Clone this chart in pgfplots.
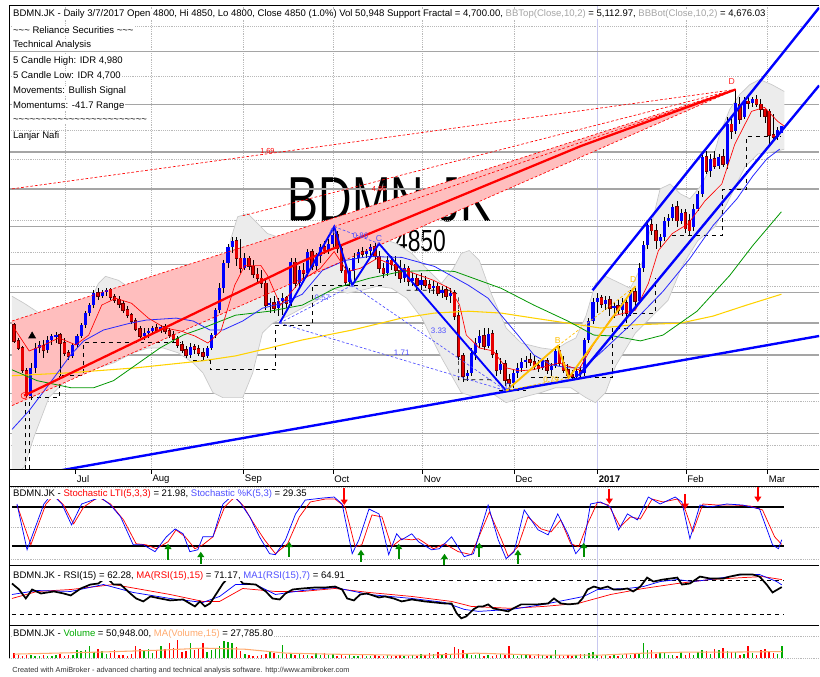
\documentclass[border=0pt]{standalone}
\usepackage{fontspec}
\setmainfont{Liberation Sans}
\usepackage{graphicx}
\usepackage{pgfplots}
\pgfplotsset{compat=1.18}
\usepackage{pgfplotstable}
\usetikzlibrary{arrows.meta}

\definecolor{cblue}{RGB}{0,0,255}
\definecolor{cred}{RGB}{230,0,0}
\definecolor{pinkfill}{RGB}{255,190,190}
\definecolor{bbfill}{RGB}{236,236,236}
\definecolor{bbedge}{RGB}{200,200,200}
\definecolor{gridsolid}{RGB}{165,165,165}
\definecolor{griddot}{RGB}{185,185,185}
\definecolor{yellowma}{RGB}{255,210,0}
\definecolor{greenma}{RGB}{0,150,0}
\definecolor{bluema}{RGB}{40,40,255}
\definecolor{abcdyel}{RGB}{255,190,0}
\definecolor{lblblue}{RGB}{80,80,255}
\definecolor{vgreen}{RGB}{0,170,0}
\definecolor{vorange}{RGB}{255,170,110}
\definecolor{arrowgreen}{RGB}{0,140,0}
\definecolor{yearline}{RGB}{200,200,240}
\definecolor{ltgray}{RGB}{165,165,165}

\pgfplotstableread{
i o h l c v
0 3348 3362 3212 3228 21000
1 3228 3250 3160 3175 13000
2 3175 3190 2988 3010 8500
3 3002 3025 2800 2822 13000
4 2815 3062 2785 3025 13000
5 3025 3212 2988 3175 8500
6 3175 3228 3138 3198 8500
7 3190 3235 3100 3160 13000
8 3160 3265 3138 3235 8500
9 3235 3280 3198 3265 8500
10 3265 3295 3212 3272 13000
11 3272 3288 2965 3212 17000
12 3212 3250 3115 3138 8500
13 3138 3160 3085 3115 13000
14 3115 3212 3100 3198 13000
15 3198 3280 3175 3265 34000
16 3265 3362 3250 3348 30000
17 3348 3452 3325 3438 34000
18 3438 3512 3415 3498 51000
19 3498 3610 3475 3588 25500
20 3588 3625 3535 3565 38000
21 3565 3610 3550 3595 30000
22 3595 3625 3565 3610 17000
23 3610 3625 3535 3558 21000
24 3558 3580 3512 3535 34000
25 3535 3565 3475 3505 13000
26 3505 3528 3438 3460 13000
27 3460 3490 3400 3422 8500
28 3422 3438 3355 3378 17000
29 3378 3400 3302 3318 51000
30 3318 3340 3250 3265 38000
31 3265 3325 3235 3288 34000
32 3288 3325 3250 3302 38000
33 3302 3340 3272 3325 21000
34 3325 3355 3295 3310 34000
35 3310 3348 3288 3332 51000
36 3332 3355 3280 3302 38000
37 3302 3325 3250 3272 64000
38 3272 3302 3220 3242 42500
39 3242 3265 3175 3198 76500
40 3198 3228 3138 3160 25500
41 3160 3190 3100 3122 30000
42 3122 3212 3100 3182 64000
43 3182 3205 3130 3168 34000
44 3168 3198 3115 3138 38000
45 3138 3175 3085 3115 64000
46 3115 3190 3100 3175 25500
47 3175 3288 3160 3272 34000
48 3272 3475 3250 3460 42500
49 3460 3662 3438 3625 51000
50 3625 3835 3588 3812 72000
51 3812 3962 3775 3940 68000
52 3940 4015 3888 3985 64000
53 3985 4015 3790 3850 47000
54 3850 4000 3738 3775 30000
55 3775 3888 3760 3850 17000
56 3850 3865 3760 3790 13000
57 3790 3835 3700 3730 8500
58 3730 3775 3670 3700 8500
59 3700 3760 3625 3662 13000
60 3662 3700 3460 3498 17000
61 3498 3550 3438 3512 30000
62 3512 3565 3438 3475 21000
63 3475 3550 3415 3528 13000
64 3528 3588 3422 3550 55000
65 3550 3565 3475 3512 17000
66 3512 3850 3490 3820 17000
67 3820 3850 3625 3662 13000
68 3662 3790 3625 3760 17000
69 3760 3812 3685 3738 13000
70 3738 3925 3715 3902 13000
71 3902 3925 3760 3790 8500
72 3790 3888 3760 3865 21000
73 3865 3962 3812 3940 13000
74 3940 3978 3880 3910 21000
75 3910 4000 3880 3962 13000
76 3962 4090 3925 4030 17000
77 4030 4060 3888 3925 8500
78 3925 3962 3738 3760 13000
79 3760 3790 3640 3670 8500
80 3670 3775 3640 3752 13000
81 3752 3888 3662 3850 8500
82 3850 3925 3812 3902 8500
83 3902 3940 3850 3880 13000
84 3880 3925 3850 3910 8500
85 3910 3962 3872 3940 8500
86 3940 3970 3835 3865 13000
87 3865 3910 3738 3775 8500
88 3775 3812 3700 3738 8500
89 3738 3865 3715 3835 13000
90 3835 3865 3760 3805 8500
91 3805 3865 3715 3760 8500
92 3760 3835 3662 3700 13000
93 3700 3805 3670 3775 8500
94 3775 3790 3640 3678 8500
95 3678 3738 3640 3700 13000
96 3700 3730 3610 3648 8500
97 3648 3738 3610 3685 17000
98 3685 3715 3625 3648 13000
99 3648 3685 3588 3625 21000
100 3625 3678 3580 3640 17000
101 3640 3662 3565 3588 25500
102 3588 3640 3550 3610 13000
103 3610 3640 3535 3565 21000
104 3565 3625 3512 3588 17000
105 3588 3610 3385 3415 47000
106 3415 3460 3085 3115 38000
107 3115 3138 2920 2965 34000
108 2965 3010 2928 2988 17000
109 2988 3175 2965 3138 13000
110 3138 3250 3085 3212 13000
111 3212 3310 3175 3265 17000
112 3265 3325 3160 3190 8500
113 3190 3325 3175 3280 13000
114 3280 3310 3100 3130 8500
115 3130 3160 2965 3010 13000
116 3010 3100 2980 3055 17000
117 3055 3085 2890 2935 13000
118 2935 2980 2860 2912 51000
119 2912 3010 2875 2988 13000
120 2988 3062 2950 3025 8500
121 3025 3100 2995 3070 17000
122 3070 3115 3025 3085 13000
123 3085 3138 3040 3070 13000
124 3070 3115 3010 3040 8500
125 3040 3085 2995 3025 17000
126 3025 3100 3010 3078 13000
127 3078 3100 2980 3010 8500
128 3010 3062 2965 3040 13000
129 3040 3175 3025 3152 34000
130 3152 3190 3040 3062 13000
131 3062 3115 2988 3010 8500
132 3010 3055 2950 2972 13000
133 2972 3010 2935 2958 8500
134 2958 3025 2935 3002 13000
135 3002 3040 2950 2988 17000
136 2988 3250 2965 3235 17000
137 3235 3400 3212 3378 21000
138 3378 3550 3355 3520 25500
139 3520 3588 3438 3550 13000
140 3550 3572 3475 3505 8500
141 3505 3565 3460 3535 13000
142 3535 3565 3415 3475 8500
143 3475 3520 3400 3490 13000
144 3490 3535 3430 3460 8500
145 3460 3550 3415 3512 13000
146 3512 3550 3362 3438 17000
147 3438 3610 3415 3595 13000
148 3595 3625 3490 3528 21000
149 3528 3812 3505 3775 21000
150 3775 3985 3745 3955 64000
151 3955 4135 3925 4105 34000
152 4105 4150 4030 4060 34000
153 4060 4112 3925 3985 17000
154 3985 4038 3940 4015 25500
155 4015 4165 3985 4135 21000
156 4135 4188 4090 4158 13000
157 4158 4262 4135 4240 13000
158 4240 4285 4090 4135 8500
159 4135 4225 4112 4195 25500
160 4195 4225 4045 4075 13000
161 4135 4188 4030 4060 21000
162 4090 4262 4060 4225 13000
163 4225 4360 4210 4338 25500
164 4338 4638 4315 4615 34000
165 4615 4660 4488 4510 30000
166 4510 4638 4465 4600 17000
167 4600 4660 4525 4548 38000
168 4548 4638 4525 4615 34000
169 4615 4675 4540 4562 42500
170 4562 4915 4525 4862 30000
171 4862 4915 4750 4810 25500
172 4810 5125 4788 5020 25500
173 5012 5065 4862 4900 13000
174 4915 5065 4900 5035 17000
175 5035 5072 4975 5020 51000
176 5020 5065 4990 5050 21000
177 5050 5080 4990 5012 13000
178 5012 5050 4915 4975 34000
179 4975 4980 4870 4922 38000
180 4960 4975 4700 4780 30000
181 4780 4938 4725 4765 21000
182 4765 4840 4740 4818 17000
183 4800 4850 4800 4850 50948
}\price

\pgfplotstableread{
x y dv
36.7 -1.5 24.6
44.5 -7.7 18.5
65.6 3.1 23.1
82.7 -4.6 18.4
91.7 0 23.1
102.6 -9.2 16.9
110.9 3.1 21.5
120.1 -7.7 21.5
135.8 3.1 21.5
}\garrows

\pgfplotstableread{
x y dv
78.7 109.2 -26.1
141.9 107.7 -23.1
160 100 -23.1
177.3 110.7 -23
}\rarrows

\pgfplotsset{panel/.style={scale only axis, width=611.25pt, xmin=-1.185, xmax=191.94,
  axis line style={draw=none}, xtick=\empty, ytick=\empty, anchor=north west,
  major tick length=0pt, clip=true, scaled y ticks=false, scaled x ticks=false,
  extra x ticks={139.1}, extra x tick labels={},
  extra x tick style={grid=major, major grid style={solid, yearline, line width=0.5pt}}}}

\newcommand\tf{\fontsize{7.2}{8.6}\selectfont}

\begin{document}
\begin{tikzpicture}
\begin{scope}[x=0.75pt,y=-0.75pt]
\path[use as bounding box] (0,0) rectangle (820,681);
\node[anchor=base west, inner sep=0] at (285,223) {\scalebox{0.73}[1]{\fontsize{48}{48}\selectfont BDMN.JK}};
\node[anchor=base west, inner sep=0] at (393,253) {\scalebox{0.75}[1]{\fontsize{23}{23}\selectfont 4850}};
\end{scope}

% ================= MAIN PRICE PANEL =================
\begin{axis}[panel, at={(3.75pt,-4.5pt)}, height=349.5pt, ymin=2260, ymax=5755,
  xtick={12.3,32.7,54.7,76.1,97.4,119.2,160.2,179.6}, xticklabels={},
  ytick={5598,5222,4818,4600,4135,3895,3640,2770,2440}, yticklabels={},
  xmajorgrids, ymajorgrids, major grid style={densely dotted, griddot, line width=0.45pt},
  extra y ticks={5410,5012,4652,4375,4090,3805,3595,3362,3122,2830,2530}, extra y tick labels={},
  extra y tick style={grid=major, major grid style={solid, gridsolid, line width=1.1pt}}]

% Bollinger band
\addplot[fill=bbfill, draw=none, forget plot] coordinates {
(-0.5,3565) (2.4,3512) (7.1,3415) (11.8,3415) (16.6,3415) (20.1,3662) (21.8,3715) (24.9,3685) (28.4,3610) (33.2,3490) (37.9,3415) (42.7,3362) (47.4,3385) (49.8,3625) (51.7,4000) (53.3,4165) (55.7,4188) (58.1,4112) (60.4,4038) (64,4000) (68.7,3940) (72.3,4000) (74.6,4060) (77,4112) (80.6,4060) (84.1,4015) (87.7,4000) (91.2,3962) (94.8,3888) (98.3,3775) (101.9,3662) (104.7,3775) (106.6,3888) (108.5,3910) (110.9,3835) (113.7,3588) (117.3,3325) (120.9,3212) (125.6,3175) (129.1,3160) (131.5,3212) (133.9,3250) (136.3,3415) (138.6,3662) (141,3715) (144.5,3662) (146.9,3625) (149.3,3775) (151.7,4075) (154,4375) (156.4,4412) (158.8,4338) (161.1,4300) (163.5,4390) (165.9,4525) (168.2,4788) (170.6,4975) (173,5088) (175.4,5162) (177.7,5200) (180.6,5162) (183.6,5110)
(183.6,4675) (182,4660) (177.3,4638) (174.2,4540) (171.1,4338) (167.1,4090) (163,3985) (159.2,3790) (155.9,3535) (152.1,3415) (148.1,3288) (143.4,3040) (141,2838) (138.6,2762) (136.3,2800) (132.7,2875) (129.1,2875) (125.6,2838) (120.9,2800) (117.3,2762) (113.7,2838) (110.2,2800) (106.6,2838) (101.9,3100) (97.2,3400) (93.6,3550) (90,3625) (86.5,3640) (82.9,3610) (79.4,3588) (75.8,3625) (72.3,3535) (68.7,3475) (65.2,3415) (61.6,3362) (59.2,3288) (56.9,2988) (54.5,2800) (49.8,2800) (47.4,2838) (45,2988) (42.7,3062) (39.1,3138) (35.5,3175) (32,3175) (28.4,3138) (23.7,3062) (20.1,3025) (16.6,2988) (11.8,2912) (8.3,2800) (4.7,2500) (2.4,2275) (-0.5,2200)} -- cycle;
\addplot[bbedge, line width=0.5pt, forget plot] coordinates {
(-0.5,3565) (2.4,3512) (7.1,3415) (11.8,3415) (16.6,3415) (20.1,3662) (21.8,3715) (24.9,3685) (28.4,3610) (33.2,3490) (37.9,3415) (42.7,3362) (47.4,3385) (49.8,3625) (51.7,4000) (53.3,4165) (55.7,4188) (58.1,4112) (60.4,4038) (64,4000) (68.7,3940) (72.3,4000) (74.6,4060) (77,4112) (80.6,4060) (84.1,4015) (87.7,4000) (91.2,3962) (94.8,3888) (98.3,3775) (101.9,3662) (104.7,3775) (106.6,3888) (108.5,3910) (110.9,3835) (113.7,3588) (117.3,3325) (120.9,3212) (125.6,3175) (129.1,3160) (131.5,3212) (133.9,3250) (136.3,3415) (138.6,3662) (141,3715) (144.5,3662) (146.9,3625) (149.3,3775) (151.7,4075) (154,4375) (156.4,4412) (158.8,4338) (161.1,4300) (163.5,4390) (165.9,4525) (168.2,4788) (170.6,4975) (173,5088) (175.4,5162) (177.7,5200) (180.6,5162) (183.6,5110)};
\addplot[bbedge, line width=0.5pt, forget plot] coordinates {
(183.6,4675) (182,4660) (177.3,4638) (174.2,4540) (171.1,4338) (167.1,4090) (163,3985) (159.2,3790) (155.9,3535) (152.1,3415) (148.1,3288) (143.4,3040) (141,2838) (138.6,2762) (136.3,2800) (132.7,2875) (129.1,2875) (125.6,2838) (120.9,2800) (117.3,2762) (113.7,2838) (110.2,2800) (106.6,2838) (101.9,3100) (97.2,3400) (93.6,3550) (90,3625) (86.5,3640) (82.9,3610) (79.4,3588) (75.8,3625) (72.3,3535) (68.7,3475) (65.2,3415) (61.6,3362) (59.2,3288) (56.9,2988) (54.5,2800) (49.8,2800) (47.4,2838) (45,2988) (42.7,3062) (39.1,3138) (35.5,3175) (32,3175) (28.4,3138) (23.7,3062) (20.1,3025) (16.6,2988) (11.8,2912) (8.3,2800) (4.7,2500) (2.4,2275) (-0.5,2200)};

% pink fan wedge
\addplot[fill=pinkfill, draw=none, forget plot] coordinates {(-0.5,3378) (172,5125) (-0.5,2740)} -- cycle;

% black dashed fractal steps
\addplot[black, dashed, line width=0.5pt, forget plot] coordinates {(2.8,2200) (2.8,2800)};
\addplot[black, dashed, line width=0.5pt, forget plot] coordinates {(3.6,2200) (3.6,2800) (10.7,2800) (10.7,2972) (16.6,2972) (16.6,3220) (39.8,3220)};
\addplot[black, dashed, line width=0.5pt, forget plot] coordinates {(42.7,3078) (46.7,3078) (46.7,3010) (62.3,3010) (62.3,3348) (71.1,3348) (71.1,3648) (88.4,3648)};
\addplot[black, dashed, line width=0.5pt, forget plot] coordinates {(93.6,3610) (104.7,3610) (105.9,3572) (105.9,2935) (114.9,2935)};
\addplot[black, dashed, line width=0.5pt, forget plot] coordinates {(115.6,2852) (122,2852)};
\addplot[black, dashed, line width=0.5pt, forget plot] coordinates {(123.2,2950) (142.7,2950) (142.7,3325) (147.4,3325)};
\addplot[black, dashed, line width=0.5pt, forget plot] coordinates {(147.6,3438) (152.8,3438) (152.8,3700)};
\addplot[black, dashed, line width=0.5pt, forget plot] coordinates {(156.9,4022) (168.9,4022) (168.9,4375) (174.6,4375) (174.6,4772) (182.5,4772)};

% candles: wicks
\addplot[draw=none, mark=none, forget plot, error bars/.cd, y dir=both, y explicit, error mark=none,
  error bar style={draw=black, line width=0.5pt}]
  table[x=i, y expr={(\thisrow{h}+\thisrow{l})/2}, y error expr={(\thisrow{h}-\thisrow{l})/2}] {\price};
% up bodies
\addplot[draw=none, mark=none, forget plot, restrict expr to domain={\thisrow{c}-\thisrow{o}}{0:100000},
  error bars/.cd, y dir=both, y explicit, error mark=none, error bar style={draw=cblue, line width=2.3pt}]
  table[x=i, y expr={(\thisrow{o}+\thisrow{c})/2}, y error expr={abs(\thisrow{c}-\thisrow{o})/2}] {\price};
% down bodies
\addplot[draw=none, mark=none, forget plot, restrict expr to domain={\thisrow{c}-\thisrow{o}}{-100000:-0.01},
  error bars/.cd, y dir=both, y explicit, error mark=none, error bar style={draw=black!60!red, line width=2.6pt}]
  table[x=i, y expr={(\thisrow{o}+\thisrow{c})/2}, y error expr={abs(\thisrow{c}-\thisrow{o})/2+6}] {\price};
\addplot[draw=none, mark=none, forget plot, restrict expr to domain={\thisrow{c}-\thisrow{o}}{-100000:-0.01},
  error bars/.cd, y dir=both, y explicit, error mark=none, error bar style={draw=cred, line width=1.8pt}]
  table[x=i, y expr={(\thisrow{o}+\thisrow{c})/2}, y error expr={abs(\thisrow{c}-\thisrow{o})/2}] {\price};

% moving averages
\addplot[yellowma, line width=0.8pt, forget plot] coordinates {(-0.5,2965) (13.5,2988) (29.1,3025) (45,3078) (52.8,3115) (60.9,3175) (68.7,3235) (80.6,3310) (92.4,3400) (100.2,3438) (108.3,3452) (116.1,3438) (123.9,3400) (132,3362) (139.8,3325) (146.9,3348) (158.8,3362) (166.6,3415) (174.6,3498) (182.9,3580)};
\addplot[greenma, line width=0.6pt, forget plot] coordinates {(-0.5,3010) (5.5,2928) (13.5,2875) (19,2875) (23.7,2928) (29.1,3048) (34.8,3175) (40.3,3272) (45,3325) (52.8,3422) (60.9,3452) (68.7,3498) (76.5,3625) (84.6,3700) (92.4,3752) (100.2,3760) (105,3752) (116.1,3625) (123.9,3498) (132,3378) (138.2,3272) (142.9,3265) (149.3,3228) (154.7,3272) (162.8,3452) (170.6,3722) (176.1,3948) (182.9,4202)};
\addplot[bluema, line width=0.6pt, forget plot] coordinates {(-0.5,2560) (3.6,2702) (9.5,2950) (13.5,3122) (16.6,3228) (21.3,3310) (27.7,3362) (31.5,3385) (38.6,3400) (42.7,3378) (46.7,3310) (49.8,3310) (54.5,3378) (59.2,3475) (64,3512) (68.7,3580) (73.5,3760) (78.9,3835) (84.6,3865) (92.4,3858) (100.2,3790) (108.3,3648) (113,3550) (116.1,3422) (120.1,3272) (123.9,3122) (128,3048) (132,3025) (135.8,3025) (139.8,3138) (146.9,3348) (154.7,3602) (161.1,3850) (166.6,4098) (172.3,4300) (176.1,4472) (179.4,4600) (182.5,4675)};
\addplot[red, line width=0.5pt, forget plot] coordinates {(0,3325) (3.6,3152) (6.6,3190) (10.7,3250) (14.7,3198) (17.8,3272) (20.9,3498) (24.2,3550) (28,3512) (32,3400) (36,3325) (39.8,3302) (43.1,3265) (46.2,3212) (49.3,3302) (52.6,3648) (55,3798) (58.8,3798) (60.4,3722) (63.5,3498) (68.2,3678) (73,3775) (76.3,3902) (79.4,3752) (82.5,3775) (86.5,3850) (90.5,3798) (95.3,3738) (100,3685) (103.8,3625) (106.2,3498) (107.8,3272) (110.9,3175) (114.2,3152) (117.3,3025) (120.4,3002) (123.7,3010) (129.9,3062) (134.6,3010) (137.9,3190) (142.7,3415) (148.1,3460) (151.2,3662) (153.6,3910) (156.9,4038) (160.7,4112) (164.7,4285) (168.7,4412) (171.8,4712) (175.8,4960) (178.9,4990) (182,4885) (183.6,4848)};

% red fan lines
\addplot[red, line width=0.5pt, dash pattern=on 2pt off 1.5pt, forget plot] coordinates {(-0.5,4375) (172,5125)};
\addplot[red, line width=0.5pt, dash pattern=on 2pt off 1.5pt, forget plot] coordinates {(-0.5,3378) (172,5125)};
\addplot[red, line width=0.5pt, dash pattern=on 2pt off 1.5pt, forget plot] coordinates {(-0.5,2740) (172,5125)};
\addplot[red, line width=0.5pt, dash pattern=on 2pt off 1.5pt, forget plot] coordinates {(54.5,4172) (172,5125)};
\addplot[red, line width=0.5pt, dash pattern=on 2pt off 1.5pt, forget plot] coordinates {(76.3,4090) (172,5125)};
\addplot[red, line width=1.7pt, forget plot] coordinates {(2.4,2815) (68.7,3828) (135.1,4698) (172,5125)};

% blue trend lines
\addplot[cblue, line width=1.8pt, forget plot] coordinates {(0,2189) (191.9,3265)};
\addplot[cblue, line width=1.8pt, forget plot] coordinates {(137.9,3610) (191.9,5742)};
\addplot[cblue, line width=1.8pt, forget plot] coordinates {(134.6,2965) (191.9,5155)};
% harmonic pattern (blue)
\addplot[cblue, line width=1.4pt, forget plot] coordinates {(63.3,3362) (76.3,4090) (80.6,3648) (87,3962) (117.3,2852)};
\addplot[lblblue, line width=0.5pt, dash pattern=on 2pt off 1.5pt, forget plot] coordinates {(63.3,3362) (80.6,3648)};
\addplot[lblblue, line width=0.5pt, dash pattern=on 2pt off 1.5pt, forget plot] coordinates {(76.3,4090) (87,3962)};
\addplot[lblblue, line width=0.5pt, dash pattern=on 2pt off 1.5pt, forget plot] coordinates {(80.6,3648) (117.3,2852)};
\addplot[lblblue, line width=0.5pt, dash pattern=on 2pt off 1.5pt, forget plot] coordinates {(63.3,3362) (117.3,2852)};
% harmonic pattern (yellow)
\addplot[abcdyel, line width=1.4pt, forget plot] coordinates {(117.3,2852) (129.6,3190) (132.2,2950) (148.1,3640)};
\addplot[abcdyel, line width=0.5pt, dash pattern=on 2pt off 1.5pt, forget plot] coordinates {(117.3,2852) (132.2,2950)};
\addplot[abcdyel, line width=0.5pt, dash pattern=on 2pt off 1.5pt, forget plot] coordinates {(129.6,3190) (148.1,3640)};

% markers
\addplot[only marks, mark=o, red, mark size=2.3pt, forget plot] coordinates {(2.4,2815)};
\addplot[only marks, mark=triangle*, black, mark size=3pt, forget plot] coordinates {(4.3,3265)};

% labels
\node[red, font=\fontsize{5.5}{6}\selectfont] at (axis cs:60.4,4660) {1.69};
\node[red, font=\fontsize{5.5}{6}\selectfont] at (axis cs:87,4372) {4.86};
\node[lblblue, font=\fontsize{6.5}{7}\selectfont] at (axis cs:75.8,4052) {A};
\node[lblblue, font=\fontsize{6.5}{7}\selectfont] at (axis cs:87,4000) {C};
\node[lblblue, font=\fontsize{6}{7}\selectfont] at (axis cs:82.6,4022) {0.86};
\node[lblblue, font=\fontsize{6}{7}\selectfont] at (axis cs:73.5,3550) {0.57};
\node[lblblue, font=\fontsize{6}{7}\selectfont] at (axis cs:101.2,3302) {3.33};
\node[lblblue, font=\fontsize{6}{7}\selectfont] at (axis cs:92.4,3138) {1.71};
\node[lblblue, font=\fontsize{6.5}{7}\selectfont] at (axis cs:117.8,2882) {D};
\node[abcdyel, font=\fontsize{6.5}{7}\selectfont] at (axis cs:129.6,3228) {B};
\node[abcdyel, font=\fontsize{6.5}{7}\selectfont] at (axis cs:147.6,3690) {D};
\node[abcdyel, font=\fontsize{6}{7}\selectfont] at (axis cs:128,2935) {0.79};
\node[red!80!pink, font=\fontsize{6.5}{7}\selectfont] at (axis cs:171.1,5185) {D};
\end{axis}

% ================= STOCHASTIC =================
\begin{axis}[panel, at={(3.75pt,-366.75pt)}, height=60pt, ymin=-10.76, ymax=112.3,
  ytick={-1.5,49.2,110.7}, yticklabels={}, ymajorgrids, major grid style={densely dotted, griddot, line width=0.45pt}]
\addplot[black, line width=1.4pt, forget plot] coordinates {(-0.5,80) (183.6,80)};
\addplot[black, line width=1.4pt, forget plot] coordinates {(-0.5,20) (183.6,20)};
\addplot[red, line width=0.55pt, forget plot] coordinates {(0.7,83.1) (4,21.5) (7.6,84.6) (9.5,98) (11.8,83.1) (14.2,53.8) (16.6,80) (20.1,95.4) (23,84.6) (26.1,60) (29.1,23.1) (31.5,21.5) (33.9,15.4) (36.7,26.2) (38.6,44.6) (40.8,33.8) (43.1,15.4) (45,21.5) (47.4,33.8) (50.2,80) (52.6,95.4) (54.5,83.1) (56.9,56.9) (59.7,29.2) (62.3,7.7) (65.2,23.1) (68,64.6) (70.6,87.7) (74.2,92.3) (76.5,92.3) (78.9,80) (81.3,18.5) (82.9,21.5) (85.3,67.7) (87.7,64.6) (90,18.5) (92.4,30.8) (94.8,29.2) (96.4,30.8) (100,15.4) (102.6,23.1) (105.9,10.8) (109,6.2) (113.3,72.3) (116.1,30.8) (117.8,3.1) (120.1,18.5) (122.5,64.6) (125.6,46.1) (128,41.5) (130.3,60) (132.7,23.1) (134.6,18.5) (136.7,53.8) (139.1,87.7) (141.7,83.1) (144.5,49.2) (146.9,64.6) (149.3,61.5) (152.1,92.3) (154.7,87.7) (158.1,92.3) (160,75.4) (161.8,41.5) (164.2,84.6) (167.5,83.1) (171.3,83.1) (175.4,81.5) (178.4,75.4) (181.3,33.8) (183,21.98)};
\addplot[cblue, line width=0.55pt, forget plot] coordinates {(0.7,84.6) (3.1,13.8) (7.1,84.6) (9,100) (11.4,84.6) (13.7,52.3) (16.1,84.6) (20.6,95) (23,83) (25.4,64.6) (28.4,21.5) (30.8,21.5) (33.6,10.8) (36.3,33.8) (38.4,46.1) (40.3,38.5) (41.9,10.8) (43.8,13.8) (45,33.8) (47.4,33.8) (49.8,84.6) (52.1,98) (53.8,87.7) (56.2,64.6) (58.5,33.8) (60.9,7.7) (62.3,6.2) (64.7,29.2) (67.1,69.2) (69.4,90.7) (73.5,93.8) (76.3,95.4) (78.2,84.6) (80.6,7.7) (82.2,29.2) (84.6,76.9) (87,69.2) (89.3,6.2) (91.2,38.5) (92.4,29.2) (94.8,38.5) (96.4,26.2) (99.5,13.8) (101.4,15.4) (104.3,33.8) (107.3,3.1) (109.5,7.7) (113,83) (115.4,29.2) (117.3,0) (119.2,10.8) (121.6,75.4) (124.9,44.6) (127.3,36.9) (129.6,69.2) (132,38.5) (133.9,7.7) (135.8,23.1) (137.4,84.6) (139.8,87.7) (142.2,80) (144.1,44.6) (146.2,69.2) (148.6,60) (151.2,95.4) (154,84.6) (157.6,95.4) (159.2,87.7) (161.1,30.8) (163.5,83) (165.9,80) (169.9,84.6) (173.7,83) (177.7,76.9) (180.8,21.5) (182.2,15.4) (183,29.35)};
\addplot[arrowgreen, line width=1.5pt, no marks, -{Triangle[length=4pt,width=5pt]}, quiver={u=0, v=\thisrow{dv}}, forget plot] table[x=x, y=y] {\garrows};
\addplot[red, line width=1.5pt, no marks, -{Triangle[length=4pt,width=5pt]}, quiver={u=0, v=\thisrow{dv}}, forget plot] table[x=x, y=y] {\rarrows};
\end{axis}

% ================= RSI =================
\begin{axis}[panel, at={(3.75pt,-426.75pt)}, height=45pt, ymin=17.06, ymax=87.65]
\addplot[black, line width=0.6pt, dashed, forget plot] coordinates {(-0.5,70) (183.6,70)};
\addplot[black, line width=0.6pt, dashed, forget plot] coordinates {(-0.5,30) (183.6,30)};
\addplot[red, line width=0.55pt, forget plot] coordinates {(-0.5,48.8) (5.5,57.1) (13.5,59.4) (23.7,65.3) (29.1,60.6) (37.2,53.5) (45,45.3) (49,45.3) (54.5,60.6) (62.3,57.1) (68.7,57.1) (76.5,60.6) (84.6,55.9) (94.8,51.2) (104.3,45.3) (109,39.4) (118.5,37.1) (126.3,39.4) (134.4,42.9) (142.2,53.5) (150,60.6) (158.1,66.5) (165.9,71.2) (173.7,73.5) (178.4,74.7) (183,71.17)};
\addplot[cblue, line width=0.55pt, forget plot] coordinates {(-0.5,53.5) (5.5,58.2) (13.5,57.1) (21.3,65.3) (28.4,55.9) (37.2,48.8) (45,44.1) (49,51.2) (52.8,65.3) (57.6,65.3) (62.3,53.5) (68.7,58.2) (76.5,61.8) (84.6,53.5) (94.8,48.8) (102.6,44.1) (107.3,35.9) (110.7,33.5) (118.5,35.9) (126.3,41.8) (135.8,51.2) (139.1,59.4) (146.2,60.6) (150,62.9) (154,68.8) (158.1,71.2) (161.8,68.8) (165.9,71.2) (173.7,77.1) (177.7,77.1) (181.8,68.8) (183,64.91)};
\addplot[black, line width=1.3pt, forget plot] coordinates {(-0.5,66.5) (1.2,59.4) (2.8,48.8) (4.3,59.4) (6.4,54.7) (9.5,57.1) (11.8,54.7) (13.5,52.4) (15.9,60.6) (18.2,65.3) (20.1,66.5) (22,74) (23.7,65.3) (25.4,65.3) (27.7,54.7) (29.1,48.8) (30.8,45.3) (32.5,51.2) (34.8,48.8) (37.2,46.5) (40.3,47.6) (41.9,42.9) (43.1,39.4) (44.3,45.3) (45.5,39.4) (46.7,42.9) (48.1,53.5) (49.8,66.5) (51.7,77) (52.8,79) (54.5,66.5) (57.6,65.3) (60,57.1) (61.6,48.8) (63.3,47.6) (64.7,54.7) (66.4,59.4) (68.7,60.6) (71.8,61.8) (74.2,61.8) (76.5,62.9) (78.2,59.4) (79.4,48.8) (81,46.5) (82.5,53.5) (84.1,54.7) (87,50) (88.4,51.2) (90.5,48.8) (92.4,45.3) (94.8,47.6) (97.9,45.3) (102.6,42.9) (104.3,42.9) (105.5,31.2) (106.6,25.3) (107.8,27.6) (109.5,35.9) (110.7,39.4) (111.8,39.4) (113,41.8) (114.2,37.1) (115.4,35.9) (117.8,33.5) (119,37.1) (120.9,41.8) (123.2,41.8) (124.9,41.8) (127.3,42.9) (128.7,48.8) (130.3,42.9) (132.2,41.8) (134.4,42.9) (135.5,48.8) (136.7,59.4) (138.2,62.9) (139.8,60.6) (141.5,62.9) (142.9,59.4) (144.5,59.4) (146.2,60.6) (147.6,57.1) (149.3,62.9) (150.9,73.5) (152.4,68.8) (154.7,71.2) (158.1,73.5) (159.2,65.3) (161.1,66.5) (163.5,74.7) (165.9,72.4) (169,72.4) (170.6,74.7) (173,77.1) (176.1,77.1) (177.7,74.7) (179.4,65.3) (180.8,55.9) (182,59.4) (183,62.28)};
\end{axis}

% ================= VOLUME =================
\begin{axis}[panel, at={(3.75pt,-471.75pt)}, height=27pt, ymin=-12750, ymax=140250,
  ytick={0,93500}, yticklabels={}, ymajorgrids, major grid style={densely dotted, griddot, line width=0.45pt}]
\addplot[ycomb, vgreen, line width=1.1pt, no marks, forget plot, restrict expr to domain={\thisrow{c}-\thisrow{o}}{0:100000}] table[x=i, y=v] {\price};
\addplot[ycomb, red, line width=1.1pt, no marks, forget plot, restrict expr to domain={\thisrow{c}-\thisrow{o}}{-100000:-0.01}] table[x=i, y=v] {\price};
\addplot[vorange, line width=0.8pt, forget plot] coordinates {(0,17000) (20,25500) (35,34000) (45,42500) (55,38000) (65,21000) (75,17000) (90,13000) (100,13000) (110,21000) (125,13000) (140,13000) (150,21000) (160,25500) (170,25500) (183,27786)};
\end{axis}

% ================= FRAMES AND TEXT =================
\begin{scope}[x=0.75pt,y=-0.75pt]
\draw[black, line width=0.8pt] (5,6) -- (820,6);
\draw[black, line width=0.8pt] (5,6) -- (5,662);
\draw[black, line width=0.8pt] (5,472) -- (820,472);
\draw[black, line width=0.8pt] (5,489) -- (820,489);
\draw[black, line width=0.8pt] (5,569) -- (820,569);
\draw[black, line width=0.8pt] (5,629) -- (820,629);
\foreach \mx in {72,148,241,331,421,513,597,686,768} \draw[black, line width=0.5pt] (\mx,472) -- (\mx,477);
\foreach \mx/\ml in {72/Jul,148/Aug,241/Sep,331/Oct,421/Nov,513/Dec,686/Feb,768/Mar}
  \node[anchor=west, inner sep=0, font=\tf] at (\mx+1,482) {\ml};
\node[anchor=west, inner sep=0, font=\tf\bfseries] at (598,482) {2017};

\node[anchor=west, fill=white, inner sep=0.6pt, font=\tf] at (8,14) {BDMN.JK - Daily 3/7/2017 Open 4800, Hi 4850, Lo 4800, Close 4850 (1.0\%) Vol 50,948 Support Fractal = 4,700.00, {\color{ltgray}BBTop(Close,10,2)} = 5,112.97, {\color{ltgray}BBBot(Close,10,2)} = 4,676.03};
\node[anchor=west, fill=white, inner sep=0.6pt, font=\tf] at (8,30.5) {\textasciitilde\textasciitilde\textasciitilde{} Reliance Securities \textasciitilde\textasciitilde\textasciitilde};
\node[anchor=west, fill=white, inner sep=0.6pt, font=\tf] at (8,45.7) {Technical Analysis};
\node[anchor=west, fill=white, inner sep=0.6pt, font=\tf] at (8,61) {5 Candle High: IDR 4,980};
\node[anchor=west, fill=white, inner sep=0.6pt, font=\tf] at (8,76) {5 Candle Low: IDR 4,700};
\node[anchor=west, fill=white, inner sep=0.6pt, font=\tf] at (8,91.3) {Movements: Bullish Signal};
\node[anchor=west, fill=white, inner sep=0.6pt, font=\tf] at (8,106.6) {Momentums: -41.7 Range};
\node[anchor=west, fill=white, inner sep=0.6pt, font=\tf] at (8,121.8) {\textasciitilde\textasciitilde\textasciitilde\textasciitilde\textasciitilde\textasciitilde\textasciitilde\textasciitilde\textasciitilde\textasciitilde\textasciitilde\textasciitilde\textasciitilde\textasciitilde\textasciitilde\textasciitilde\textasciitilde\textasciitilde\textasciitilde\textasciitilde\textasciitilde\textasciitilde\textasciitilde\textasciitilde};
\node[anchor=west, fill=white, inner sep=0.6pt, font=\tf] at (8,137) {Lanjar Nafi};

\node[anchor=west, fill=white, inner sep=0.6pt, font=\tf] at (8,497) {BDMN.JK - {\color{red}Stochastic LTI(5,3,3)} = 21.98, {\color{lblblue}Stochastic \%K(5,3)} = 29.35};
\node[anchor=west, fill=white, inner sep=0.6pt, font=\tf] at (8,579) {BDMN.JK - RSI(15) = 62.28, {\color{red}MA(RSI(15),15)} = 71.17, {\color{lblblue}MA1(RSI(15),7)} = 64.91};
\node[anchor=west, fill=white, inner sep=0.6pt, font=\tf] at (8,638) {BDMN.JK - {\color{vgreen}Volume} = 50,948.00, {\color{vorange}MA(Volume,15)} = 27,785.80};
\node[anchor=west, inner sep=0, font=\fontsize{5.55}{6.2}\selectfont, text=black!80] at (8,675) {Created with AmiBroker - advanced charting and technical analysis software. http://www.amibroker.com};
\end{scope}
\end{tikzpicture}
\end{document}
